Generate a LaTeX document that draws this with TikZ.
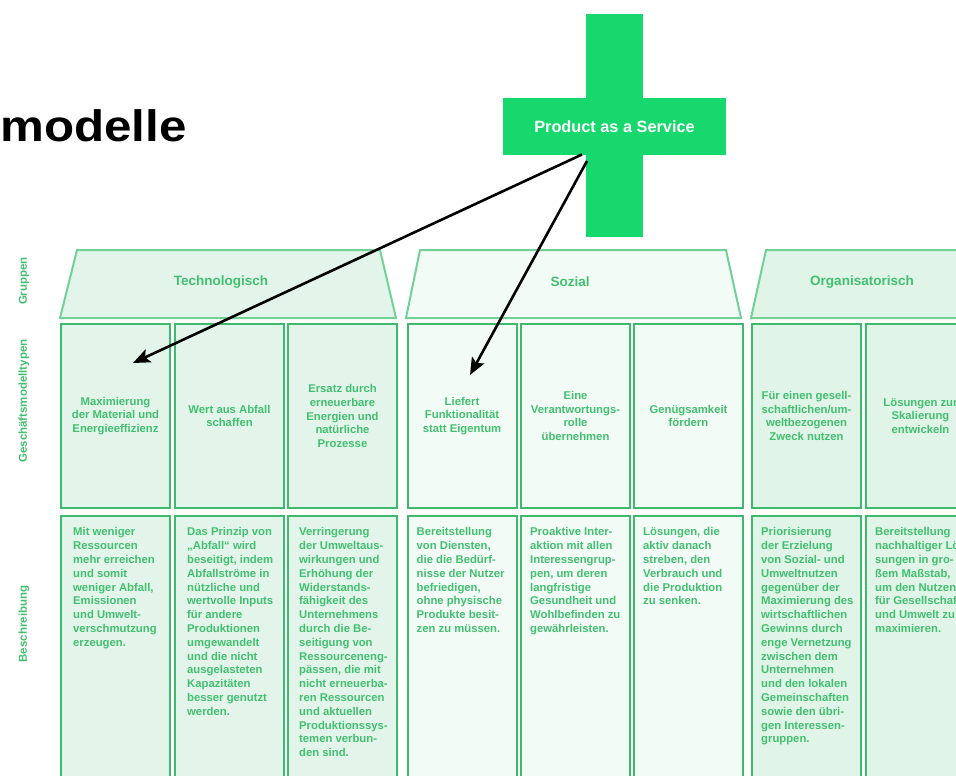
\documentclass[tikz,border=0pt]{standalone}
\usepackage{fontspec}
\setmainfont{Liberation Sans}
\usetikzlibrary{arrows.meta}
\definecolor{crossgreen}{RGB}{22,216,108}
\definecolor{boxline}{RGB}{62,186,108}
\definecolor{trapline}{RGB}{115,208,150}
\definecolor{txtgreen}{RGB}{66,192,112}
\definecolor{fillA}{RGB}{227,245,234}
\definecolor{fillB}{RGB}{243,251,246}
\definecolor{fillOrg}{RGB}{224,244,232}
\begin{document}
\begin{tikzpicture}[x=1pt,y=-1pt,
  typebox/.style={draw=boxline, line width=2pt, minimum width=109pt, minimum height=184pt, anchor=north west,
    text=txtgreen, font=\fontsize{11.3}{13.8}\selectfont\bfseries, align=center, inner sep=0pt},
  descbox/.style={draw=boxline, line width=2pt, minimum width=109pt, minimum height=275pt, anchor=north west, inner sep=0pt},
  desctext/.style={text=txtgreen, font=\fontsize{11.3}{13.8}\selectfont\bfseries, align=left, anchor=north west, inner sep=0pt},
  grouptext/.style={text=txtgreen, font=\fontsize{13.5}{16}\selectfont\bfseries},
  trap/.style={draw=trapline, line width=2pt, line join=miter},
  sidelabel/.style={text=txtgreen, rotate=90, font=\fontsize{11.5}{14}\selectfont\bfseries, inner sep=0pt},
  arr/.style={line width=2.6pt, -{Stealth[length=17pt,width=14pt,inset=3.5pt]}}
]
\useasboundingbox (0,0) rectangle (956,776);
\clip (0,0) rectangle (956,776);
\fill[white] (0,0) rectangle (956,776);

% title
\node[anchor=base west, inner sep=0pt, font=\fontsize{44}{44}\selectfont\bfseries] (title) at (0,141) {\scalebox{1.12}[1]{modelle}};

% cross
\node[fill=crossgreen, minimum width=57pt, minimum height=223pt, inner sep=0pt] (vbar) at (614.5,125.5) {};
\node[fill=crossgreen, minimum width=223pt, minimum height=57pt, inner sep=0pt, text=white,
  font=\fontsize{16.3}{19}\selectfont\bfseries] (pas) at (614.5,126.5) {Product as a Service};

% side labels
\node[sidelabel] (lg) at (24,281) {Gruppen};
\node[sidelabel] (lm) at (24,401) {Geschäftsmodelltypen};
\node[sidelabel] (lb) at (24,624) {Beschreibung};

% group trapezoids
\filldraw[trap, fill=fillA] (77,250) -- (380,250) -- (396,318) -- (60,318) -- cycle;
\filldraw[trap, fill=fillB] (420,250) -- (726,250) -- (741,318) -- (406,318) -- cycle;
\filldraw[trap, fill=fillOrg] (766,250) -- (1080,250) -- (1095,318) -- (751,318) -- cycle;
\node[grouptext] (g1) at (221,282) {Technologisch};
\node[grouptext] (g2) at (570,282) {Sozial};
\node[grouptext] (g3) at (862,282) {Organisatorisch};

% business model types
\node[typebox, fill=fillA] (m1) at (60,323) {Maximierung\\der Material und\\Energieeffizienz};
\node[typebox, fill=fillA] (m2) at (174,323) {Wert aus Abfall\\schaffen};
\node[typebox, fill=fillA] (m3) at (287,323) {Ersatz durch\\erneuerbare\\Energien und\\natürliche\\Prozesse};
\node[typebox, fill=fillB] (m4) at (406.5,323) {Liefert\\Funktionalität\\statt Eigentum};
\node[typebox, fill=fillB] (m5) at (520,323) {Eine\\Verantwortungs-\\rolle\\übernehmen};
\node[typebox, fill=fillB] (m6) at (633,323) {Genügsamkeit\\fördern};
\node[typebox, fill=fillOrg] (m7) at (751,323) {Für einen gesell-\\schaftlichen/um-\\weltbezogenen\\Zweck nutzen};
\node[typebox, fill=fillOrg] (m8) at (865,323) {Lösungen zur\\Skalierung\\entwickeln};

% descriptions
\node[descbox, fill=fillA] (d1) at (60,515) {};
\node[descbox, fill=fillA] (d2) at (174,515) {};
\node[descbox, fill=fillA] (d3) at (287,515) {};
\node[descbox, fill=fillB] (d4) at (406.5,515) {};
\node[descbox, fill=fillB] (d5) at (520,515) {};
\node[descbox, fill=fillB] (d6) at (633,515) {};
\node[descbox, fill=fillOrg] (d7) at (751,515) {};
\node[descbox, fill=fillOrg] (d8) at (865,515) {};

\node[desctext] (t1) at ([shift={(13,12.5)}]d1.north west) {Mit weniger\\Ressourcen\\mehr erreichen\\und somit\\weniger Abfall,\\Emissionen\\und Umwelt-\\verschmutzung\\erzeugen.};
\node[desctext] (t2) at ([shift={(13,12.5)}]d2.north west) {Das Prinzip von\\„Abfall“ wird\\beseitigt, indem\\Abfallströme in\\nützliche und\\wertvolle Inputs\\für andere\\Produktionen\\umgewandelt\\und die nicht\\ausgelasteten\\Kapazitäten\\besser genutzt\\werden.};
\node[desctext] (t3) at ([shift={(12,12.5)}]d3.north west) {Verringerung\\der Umweltaus-\\wirkungen und\\Erhöhung der\\Widerstands-\\fähigkeit des\\Unternehmens\\durch die Be-\\seitigung von\\Ressourceneng-\\pässen, die mit\\nicht erneuerba-\\ren Ressourcen\\und aktuellen\\Produktionssys-\\temen verbun-\\den sind.};
\node[desctext] (t4) at ([shift={(10,12.5)}]d4.north west) {Bereitstellung\\von Diensten,\\die die Bedürf-\\nisse der Nutzer\\befriedigen,\\ohne physische\\Produkte besit-\\zen zu müssen.};
\node[desctext] (t5) at ([shift={(10,12.5)}]d5.north west) {Proaktive Inter-\\aktion mit allen\\Interessengrup-\\pen, um deren\\langfristige\\Gesundheit und\\Wohlbefinden zu\\gewährleisten.};
\node[desctext] (t6) at ([shift={(10,12.5)}]d6.north west) {Lösungen, die\\aktiv danach\\streben, den\\Verbrauch und\\die Produktion\\zu senken.};
\node[desctext] (t7) at ([shift={(10,12.5)}]d7.north west) {Priorisierung\\der Erzielung\\von Sozial- und\\Umweltnutzen\\gegenüber der\\Maximierung des\\wirtschaftlichen\\Gewinns durch\\enge Vernetzung\\zwischen dem\\Unternehmen\\und den lokalen\\Gemeinschaften\\sowie den übri-\\gen Interessen-\\gruppen.};
\node[desctext] (t8) at ([shift={(10,12.5)}]d8.north west) {Bereitstellung\\nachhaltiger Lö-\\sungen in gro-\\ßem Maßstab,\\um den Nutzen\\für Gesellschaft\\und Umwelt zu\\maximieren.};

% arrows
\coordinate (s1) at (582,154.5);
\coordinate (s2) at (587,161);
\coordinate (e1) at (133,363);
\coordinate (e2) at (470,375);
\draw[arr] (s1) -- (e1);
\draw[arr] (s2) -- (e2);
\end{tikzpicture}
\end{document}
